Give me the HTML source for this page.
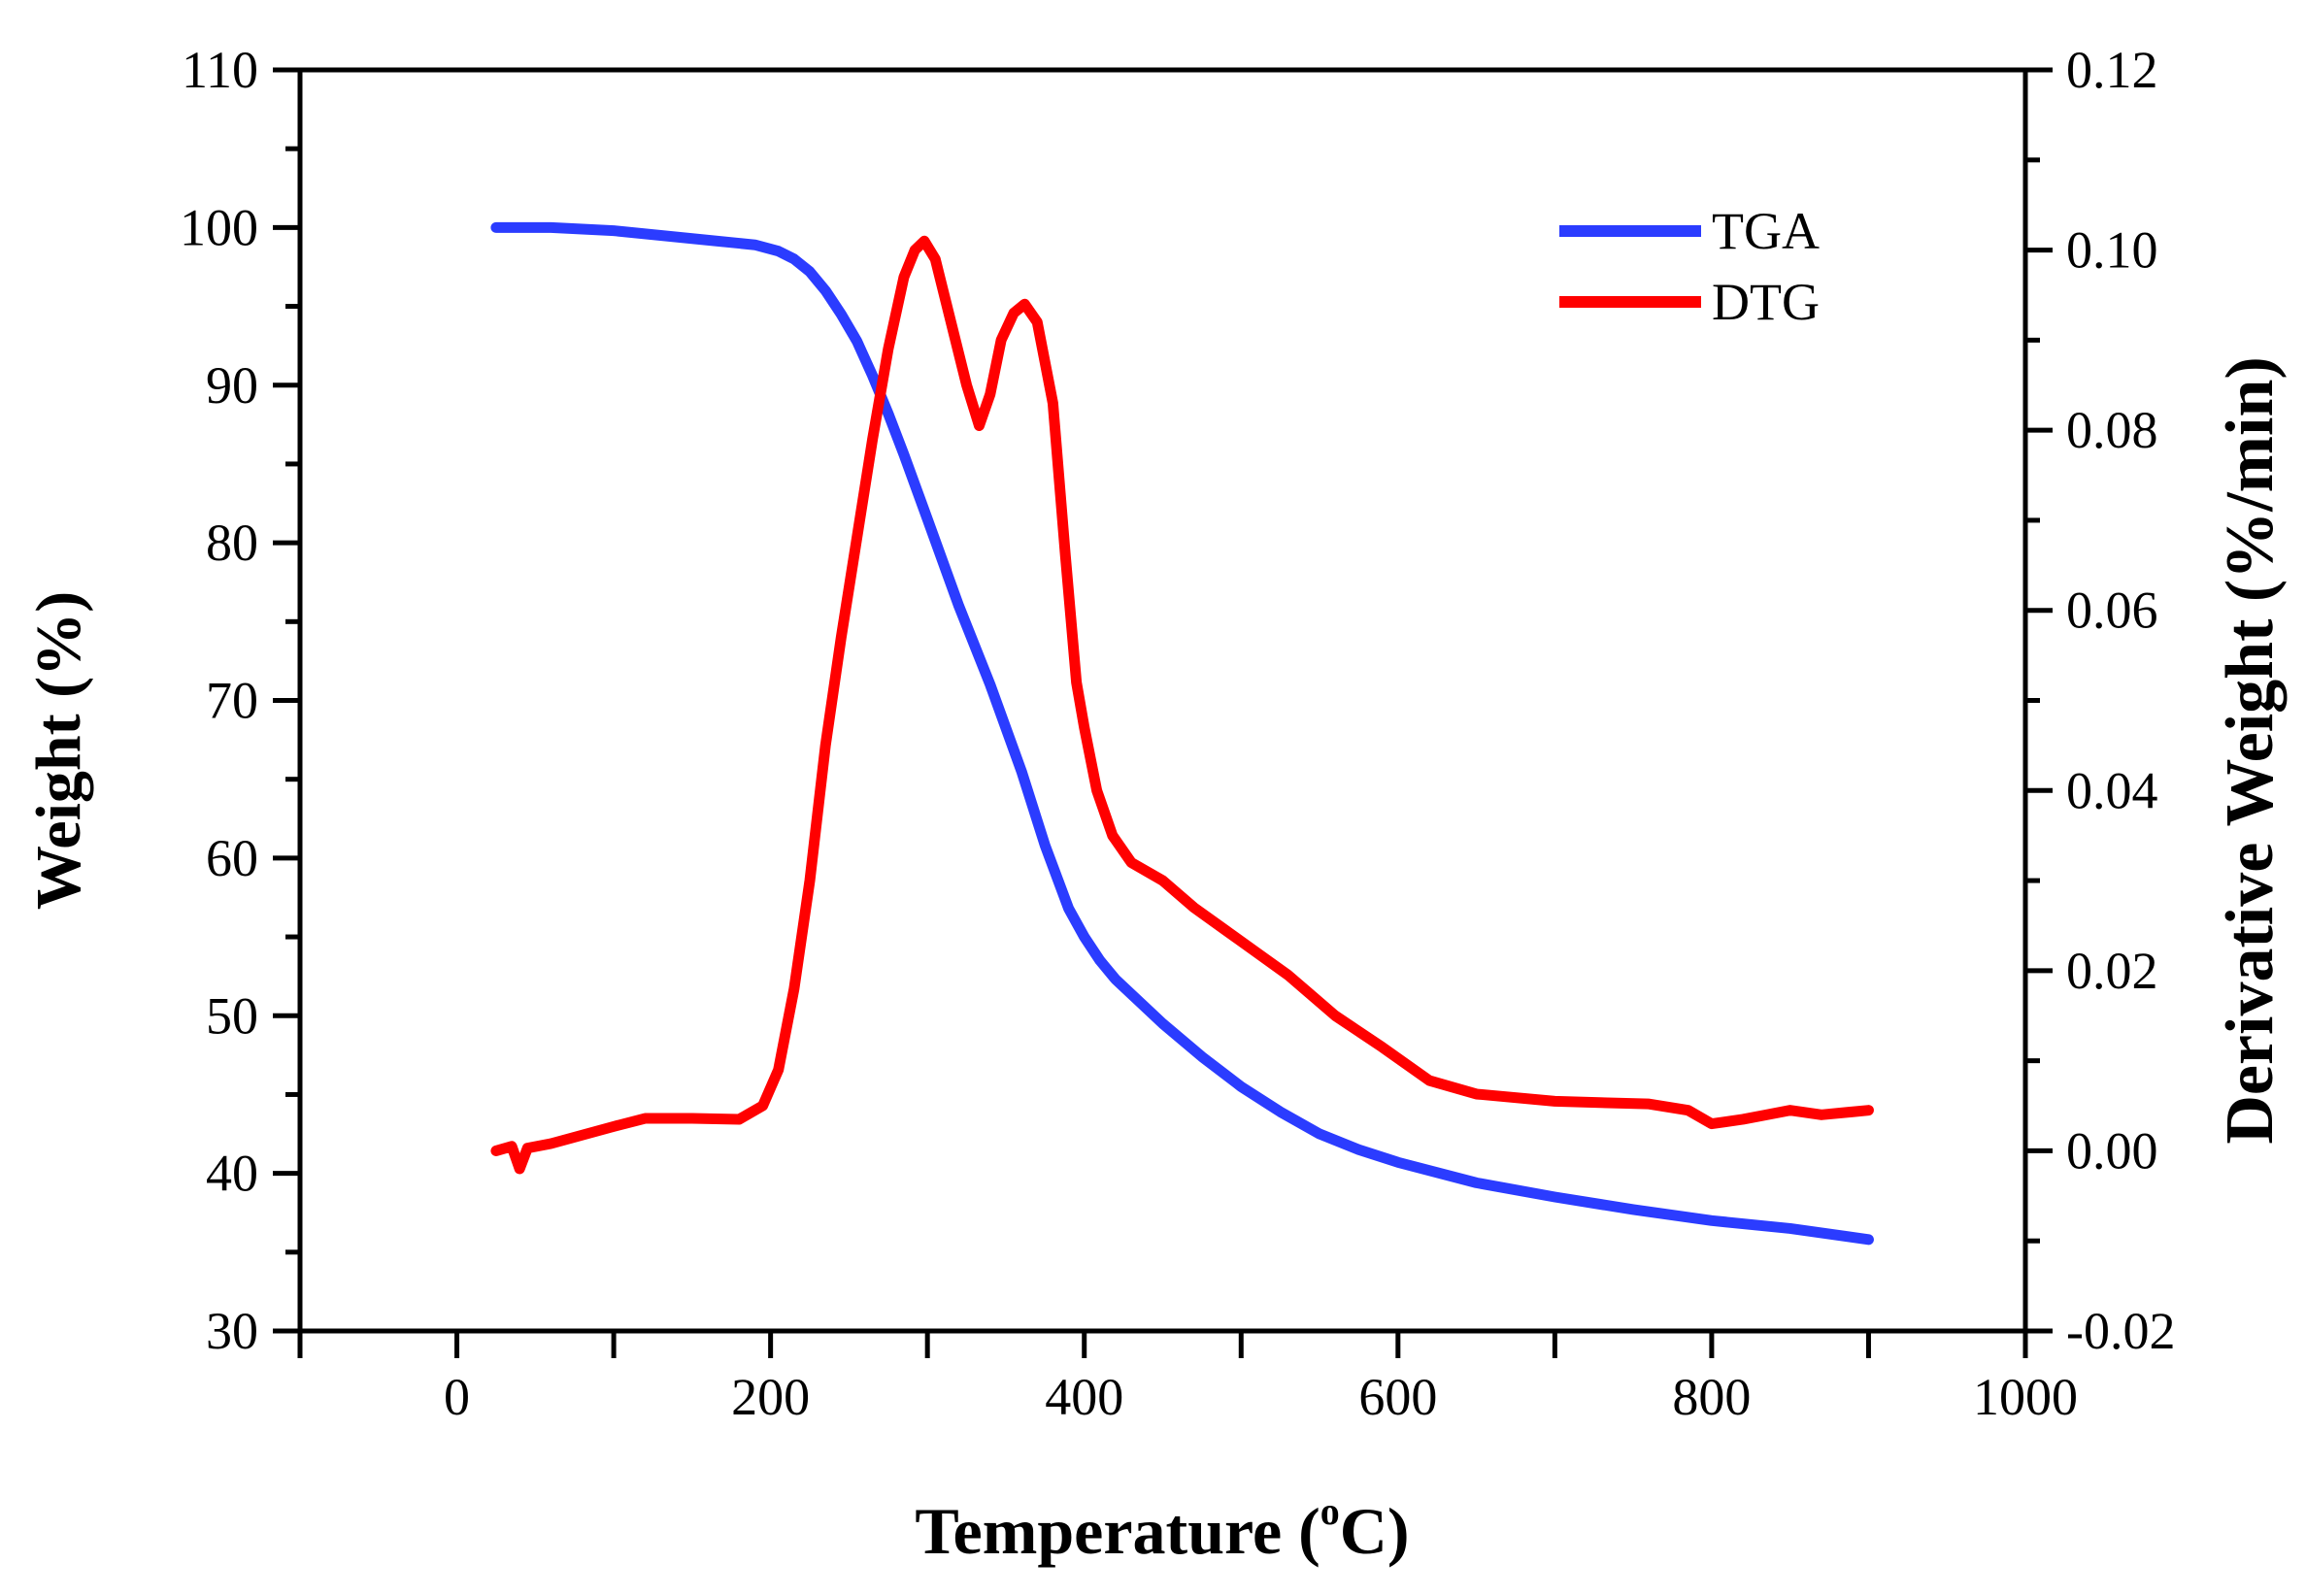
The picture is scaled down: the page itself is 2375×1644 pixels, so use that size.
<!DOCTYPE html>
<html><head><meta charset="utf-8"><style>
html,body{margin:0;padding:0;background:#fff;}
svg{display:block;font-family:"Liberation Serif",serif;}
</style></head><body>
<svg id="chart" width="2375" height="1644" viewBox="0 0 2375 1644" xmlns="http://www.w3.org/2000/svg">
<g id="axes"></g>
<g id="series"></g>
<g>
<line x1="1606" y1="238" x2="1752" y2="238" stroke="#2b3cff" stroke-width="12"/>
<text x="1763" y="256" font-size="54">TGA</text>
<line x1="1606" y1="311" x2="1752" y2="311" stroke="#ff0000" stroke-width="12"/>
<text x="1763" y="329" font-size="54">DTG</text>
</g>
<text x="1197" y="1600" font-size="68" font-weight="bold" text-anchor="middle">Temperature (<tspan font-size="40" dy="-30">o</tspan><tspan dy="30">C)</tspan></text>
<text transform="translate(82,773) rotate(-90)" font-size="66" font-weight="bold" text-anchor="middle">Weight (%)</text>
<text transform="translate(2340,773) rotate(-90)" font-size="70" font-weight="bold" text-anchor="middle">Derivative Weight (%/min)</text>
</svg>
<script>
const xTicks = [0,200,400,600,800,1000];
const yLeftTicks = [30,40,50,60,70,80,90,100,110];
const yRightTicks = [-0.02,0.00,0.02,0.04,0.06,0.08,0.10,0.12];
const tgaTemp = [25,60,100,150,190,205,215,225,235,245,255,265,275,285,300,320,340,360,375,390,400,410,420,435,450,475,500,525,550,575,600,650,700,750,800,850,900];
const tgaWeight = [100,100,99.8,99.3,98.9,98.5,98,97.2,96,94.5,92.8,90.6,88.2,85.6,81.5,76,71,65.5,60.8,56.8,55,53.5,52.3,50.9,49.5,47.4,45.5,43.9,42.5,41.5,40.7,39.4,38.5,37.7,37,36.5,35.8];
const dtgTemp = [25,35,40,45,60,100,120,150,180,195,205,215,225,235,245,255,265,275,285,292,298,305,315,325,333,340,347,355,362,370,380,388,395,400,408,418,430,450,470,490,510,530,560,590,620,650,700,760,785,800,820,850,870,900];
const dtgValue = [0,0.0005,-0.002,0.0003,0.0008,0.0027,0.0036,0.0036,0.0035,0.005,0.009,0.018,0.03,0.045,0.057,0.068,0.079,0.089,0.097,0.1,0.101,0.099,0.092,0.085,0.0805,0.084,0.09,0.093,0.094,0.092,0.083,0.066,0.052,0.047,0.04,0.035,0.032,0.03,0.027,0.0245,0.022,0.0195,0.015,0.0115,0.0078,0.0063,0.0055,0.0052,0.0045,0.003,0.0035,0.0045,0.004,0.0045];

const L=309,R=2086,T=72,B=1371;
const X=v=>L+(v+100)/1100*(R-L);
const YL=v=>B-(v-30)/80*(B-T);
const YR=v=>B-(v+0.02)/0.14*(B-T);
const NS="http://www.w3.org/2000/svg";
const axes=document.getElementById('axes'), series=document.getElementById('series');
function mk(tag,attrs,parent){const e=document.createElementNS(NS,tag);for(const k in attrs)e.setAttribute(k,attrs[k]);parent.appendChild(e);return e;}

const frame=mk('rect',{x:L,y:T,width:R-L,height:B-T,fill:'none',stroke:'#000','stroke-width':5},axes);



for(let v=-100;v<=1000;v+=100){
  const t=mk('line',{x1:X(v),y1:B,x2:X(v),y2:B+28,stroke:'#000','stroke-width':5},axes);
  
  
}
xTicks.forEach(v=>{
  const t=mk('text',{x:X(v),y:1457,'font-size':54,'text-anchor':'middle'},axes);t.textContent=v;
  
  
});
for(let v=30;v<=110;v+=5){
  const len=(v%10===0)?28:15;
  const t=mk('line',{x1:L-len,y1:YL(v),x2:L,y2:YL(v),stroke:'#000','stroke-width':5},axes);
  
  
}
yLeftTicks.forEach(v=>{
  const t=mk('text',{x:266,y:YL(v)+18,'font-size':54,'text-anchor':'end'},axes);t.textContent=v;
  
  
});
for(let i=0;i<=14;i++){
  const v=-0.02+i*0.01;const len=(i%2===0)?28:15;
  const t=mk('line',{x1:R,y1:YR(v),x2:R+len,y2:YR(v),stroke:'#000','stroke-width':5},axes);
  
  
}
yRightTicks.forEach(v=>{
  const t=mk('text',{x:2128,y:YR(v)+18,'font-size':54},axes);t.textContent=v.toFixed(2);
  
  
});

const tga=mk('polyline',{points:tgaTemp.map((t,i)=>X(t)+','+YL(tgaWeight[i])).join(' '),fill:'none',stroke:'#2b3cff','stroke-width':11,'stroke-linejoin':'round','stroke-linecap':'round'},series);


const dtg=mk('polyline',{points:dtgTemp.map((t,i)=>X(t)+','+YR(dtgValue[i])).join(' '),fill:'none',stroke:'#ff0000','stroke-width':11,'stroke-linejoin':'round','stroke-linecap':'round'},series);


</script>
</body></html>
